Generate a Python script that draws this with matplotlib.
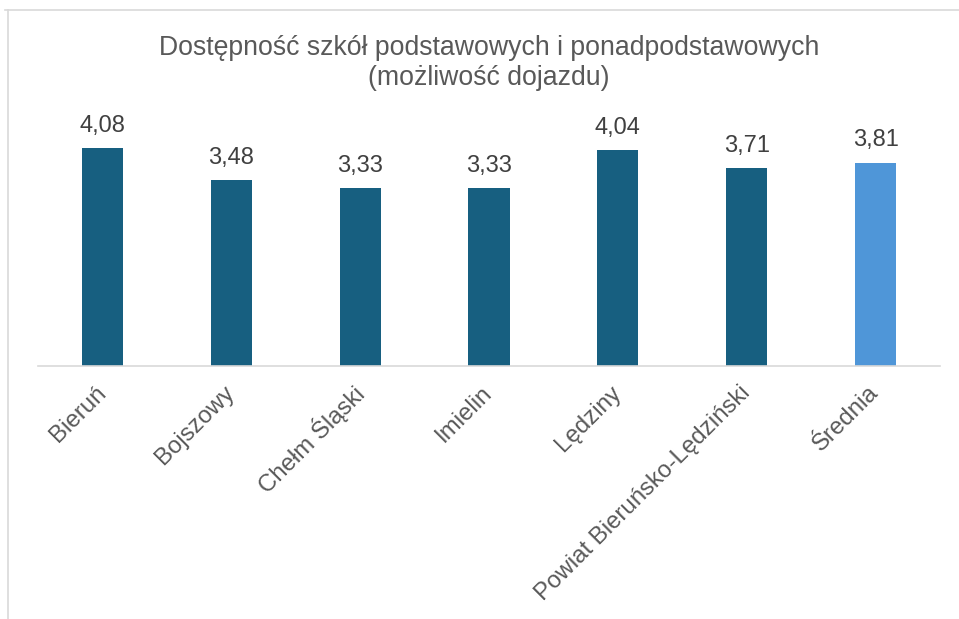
import matplotlib
matplotlib.use("Agg")
import matplotlib.pyplot as plt
from matplotlib.lines import Line2D

plt.rcParams["font.family"] = ["Liberation Sans", "DejaVu Sans"]

gminy = ["Bieruń", "Bojszowy", "Chełm Śląski", "Imielin", "Lędziny",
         "Powiat Bieruńsko-Lędziński", "Średnia"]
oceny = [4.08, 3.48, 3.33, 3.33, 4.04, 3.71, 3.81]
kolory = ["#175F80"] * 6 + ["#4F96D8"]

tekst = "#595959"
W, H = 959, 619

fig = plt.figure(figsize=(W / 100, H / 100), dpi=100)
ax = fig.add_axes([38 / W, 1 - 366 / H, (940 - 38) / W, (366 - 99) / H])

x = range(len(gminy))
bars = ax.bar(x, oceny, width=0.32, color=kolory, zorder=2)

for b, v in zip(bars, oceny):
    ax.annotate(f"{v:.2f}".replace(".", ","),
                (b.get_x() + b.get_width() / 2, v),
                xytext=(0, 8), textcoords="offset points",
                ha="center", va="bottom", fontsize=17, color="#404040")

ax.set_xlim(-0.5, len(gminy) - 0.5)
ax.set_ylim(0, 5)
ax.set_yticks([])
ax.set_xticks(list(x))
ax.set_xticklabels(gminy, rotation=45, ha="right", va="center",
                   rotation_mode="anchor", fontsize=17.3, color=tekst)
ax.tick_params(axis="x", length=0, pad=17)
for s in ["top", "right", "left"]:
    ax.spines[s].set_visible(False)
ax.spines["bottom"].set_color("#D9D9D9")
ax.spines["bottom"].set_linewidth(1.2)

fig.text(489 / W, 1 - 35 / H,
         "Dostępność szkół podstawowych i ponadpodstawowych\n(możliwość dojazdu)",
         ha="center", va="top", fontsize=19.2, color=tekst, linespacing=1.2)

# ramka wykresu
fig.add_artist(Line2D([5 / W, 1], [1 - 10 / H, 1 - 10 / H],
                      transform=fig.transFigure, color="#D9D9D9", lw=1.2))
fig.add_artist(Line2D([8 / W, 8 / W], [0, 1 - 10 / H],
                      transform=fig.transFigure, color="#D9D9D9", lw=1.2))

fig.savefig("out.png", dpi=100)
